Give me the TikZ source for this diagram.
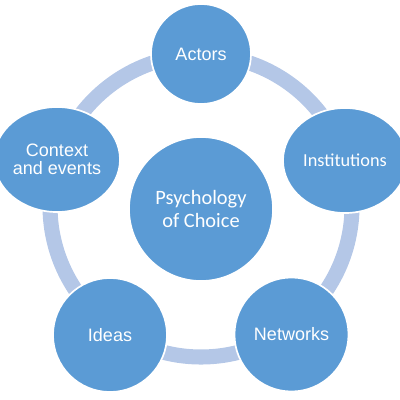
\documentclass[tikz,border=0pt]{standalone}
\usepackage{fontspec}
\setmainfont{Carlito}
\newfontfamily\arialish{Liberation Sans}
\usepackage{tikz}
\usetikzlibrary{positioning, shapes.geometric}
\definecolor{bubble}{HTML}{5B9BD5}
\definecolor{ringblue}{HTML}{B4C7E7}

\begin{document}
\begin{tikzpicture}[
    x=0.025cm, y=-0.025cm,
    every node/.style={font=\arialish\fontsize{12.8}{13}\selectfont, text=white},
    topic/.style={
        circle,
        fill=bubble,
        draw=white,
        line width=1.2pt,
        inner sep=0pt,
        align=center
    },
    topic_oval/.style={
        ellipse,
        fill=bubble,
        draw=white,
        line width=1.2pt,
        inner sep=0pt,
        minimum height=2.625cm,
        align=center
    },
    ring/.style={line width=10.7pt, color=ringblue}
]

\useasboundingbox (0,0) rectangle (400,400);

\coordinate (hub) at (201,206);
\draw[ring] (hub) circle (151);

\node[topic, minimum size=3.6cm, font=\fontsize{14.5}{16.6}\selectfont] (choice) at (201,209) {Psychology\\of Choice};
\node[topic, minimum size=2.5cm] (actors) at (201,54) {Actors};
\node[topic_oval, minimum width=3.1cm, font=\fontsize{13}{15}\selectfont] (institutions) at (345,160.5) {Institutions};
\node[topic, minimum size=2.85cm] (networks) at (291.5,334.5) {Networks};
\node[topic, minimum size=2.85cm] (ideas) at (110,335) {Ideas};
\node[topic_oval, minimum width=3.15cm] (context) at (57,159.5) {Context\\and events};

\end{tikzpicture}
\end{document}
